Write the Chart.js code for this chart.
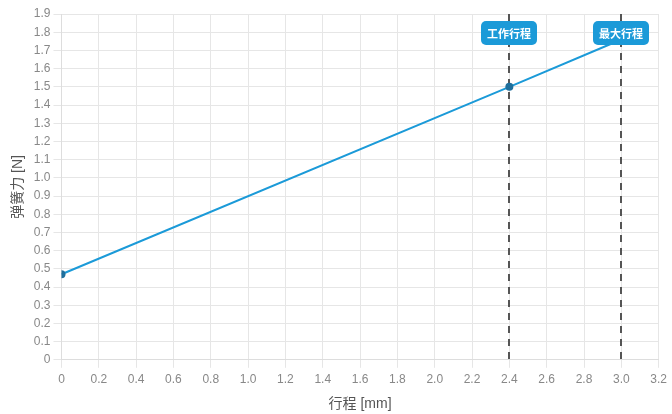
<!DOCTYPE html>
<html>
<head>
<meta charset="utf-8">
<script src="https://cdn.jsdelivr.net/npm/chart.js@4/dist/chart.umd.min.js"></script>
<style>
  html, body { margin: 0; padding: 0; background: #fff; }
  #wrap { width: 672px; height: 414px; }
</style>
</head>
<body>
<div id="wrap"><canvas id="myChart"></canvas></div>
<script>
"use strict";
// stroke (mm) vs spring force (N)
const strokes = [0, 2.4, 3.0];
const forces = [0.47, 1.5, 1.76];
const markerPositions = [2.4, 3.0];
const markerLabels = ["工作行程", "最大行程"];

const fontFamily = "'Liberation Sans', 'Noto Sans CJK SC', sans-serif";
const blue = "#1b9ad8";

// dashed lines go under the data, the blue tags go over it
const markers = {
  id: "markers",
  beforeDatasetsDraw(chart) {
    const ctx = chart.ctx;
    const area = chart.chartArea;
    const xs = chart.scales.x;
    ctx.save();
    markerPositions.forEach((pos) => {
      const px = Math.round(xs.getPixelForValue(pos));
      ctx.strokeStyle = "#555";
      ctx.lineWidth = 2;
      ctx.setLineDash([7, 6]);
      ctx.beginPath();
      ctx.moveTo(px, area.top);
      ctx.lineTo(px, area.bottom);
      ctx.stroke();
    });
    ctx.restore();
  },
  afterDatasetsDraw(chart) {
    const ctx = chart.ctx;
    const area = chart.chartArea;
    const xs = chart.scales.x;
    ctx.save();
    markerPositions.forEach((pos, i) => {
      const px = Math.round(xs.getPixelForValue(pos));
      ctx.font = "bold 11px 'Noto Sans CJK SC', sans-serif";
      const w = ctx.measureText(markerLabels[i]).width + 12;
      const h = 24;
      const top = area.top + 7;
      ctx.fillStyle = blue;
      ctx.beginPath();
      ctx.roundRect(px - w / 2, top, w, h, 5);
      ctx.fill();
      ctx.fillStyle = "#fff";
      ctx.textAlign = "center";
      ctx.textBaseline = "middle";
      ctx.fillText(markerLabels[i], px, top + h / 2 + 1);
    });
    ctx.restore();
  },
};

const ctx = document.getElementById("myChart");
const myChart = new Chart(ctx, {
  type: "line",
  data: {
    datasets: [
      {
        data: strokes.map((s, i) => ({ x: s, y: forces[i] })),
        borderColor: blue,
        backgroundColor: "#1f6f9c",
        borderWidth: 2,
        pointRadius: [4, 4, 0],
        pointBorderWidth: 0,
        fill: false,
        tension: 0,
      },
    ],
  },
  options: {
    responsive: true,
    maintainAspectRatio: false,
    animation: false,
    layout: { padding: { left: 6, right: 2, top: 14, bottom: 0 } },
    plugins: {
      legend: { display: false },
      tooltip: { enabled: false },
    },
    scales: {
      x: {
        type: "linear",
        min: 0,
        max: 3.2,
        grid: { color: "#e6e6e6" },
        border: { color: "#ddd" },
        ticks: {
          stepSize: 0.2,
          color: "#888",
          padding: 5,
          font: { family: fontFamily, size: 12 },
          callback: (v) => (v === 0 ? "0" : v.toFixed(1)),
        },
        title: {
          display: true,
          text: "行程 [mm]",
          color: "#555",
          font: { family: fontFamily, size: 14 },
          padding: { top: 4, bottom: 1 },
        },
      },
      y: {
        min: 0,
        max: 1.9,
        grid: { color: "#e6e6e6" },
        border: { color: "#ddd" },
        ticks: {
          stepSize: 0.1,
          color: "#888",
          font: { family: fontFamily, size: 12 },
          callback: (v) => (Math.abs(v) < 1e-9 ? "0" : v.toFixed(1)),
        },
        title: {
          display: true,
          text: "弹簧力 [N]",
          color: "#555",
          font: { family: fontFamily, size: 14 },
        },
      },
    },
  },
  plugins: [markers],
});
</script>
</body>
</html>
